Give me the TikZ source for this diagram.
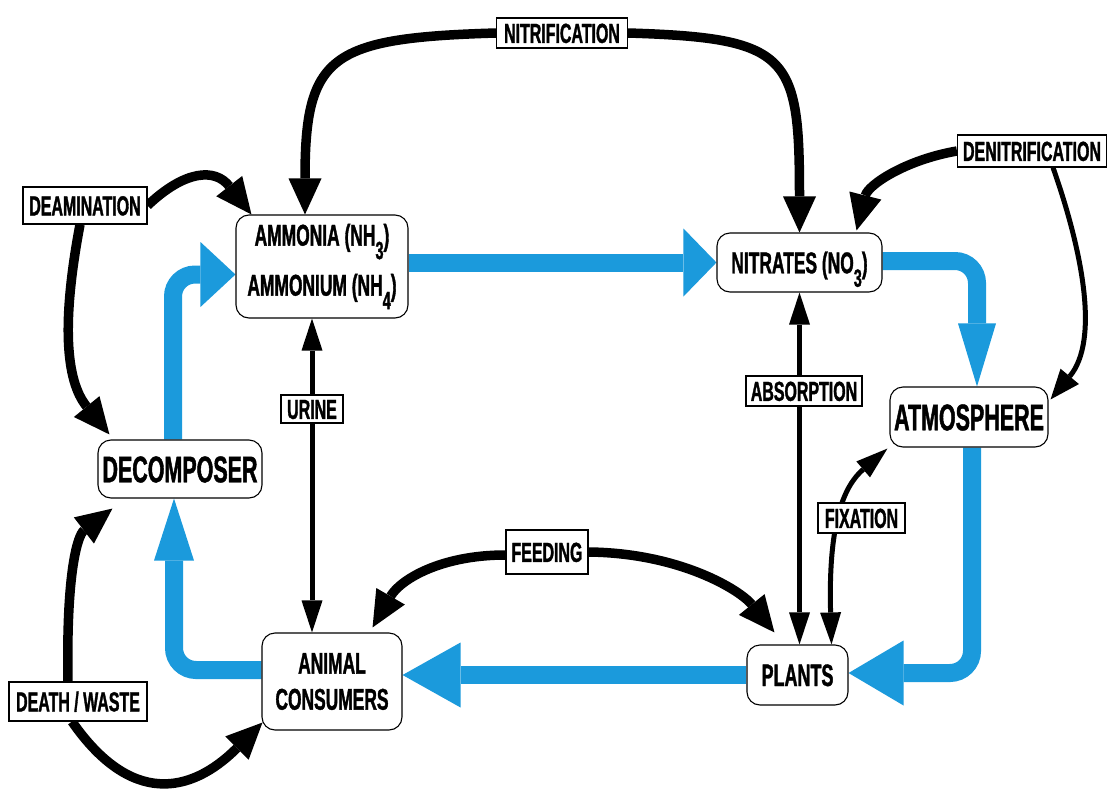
\documentclass[tikz,border=0pt]{standalone}
\usepackage{fontspec}
\setmainfont{Liberation Sans}[FakeStretch=0.58, BoldFeatures={FakeBold=1.2}]
\usetikzlibrary{arrows.meta}
\pgfdeclarelayer{bg}
\pgfsetlayers{bg,main}
\definecolor{flow}{RGB}{27,154,220}
\newcommand\sbs[1]{\raisebox{-0.45em}{\fontsize{25}{25}\selectfont #1}}
\begin{document}
\begin{tikzpicture}[x=1pt,y=-1pt,
  place/.style={draw, fill=white, rounded corners=13pt, line width=1.1pt, inner sep=0pt, align=center},
  lab/.style={draw, fill=white, line width=1.1pt, inner sep=0pt, text height=19.7pt, text depth=0pt,
    font=\bfseries\fontsize{27.5}{30}\selectfont},
  flowarrow/.style={draw=flow, line width=18pt, rounded corners=22pt},
  bigarrow/.style={line width=9.5pt, -{Triangle[length=36pt,width=33pt,line width=0pt]}},
  thinarrow/.style={line width=5pt, {Triangle[length=32pt,width=21pt,line width=0pt]}-{Triangle[length=32pt,width=21pt,line width=0pt]}},
  thinend/.style={line width=5pt, -{Triangle[length=30pt,width=24pt,line width=0pt]}},
]
\useasboundingbox (0,0) rectangle (1112,790);

% main places
\node[place, minimum width=172pt, minimum height=103pt, font=\bfseries\fontsize{30}{50}\selectfont] (amm) at (322,266.5) {AMMONIA (NH\sbs{3})\\AMMONIUM (NH\sbs{4})};
\node[place, minimum width=165pt, minimum height=59pt, text height=21.5pt, text depth=0pt, font=\bfseries\fontsize{30}{36}\selectfont] (nit) at (799.5,262.5) {NITRATES (NO\sbs{3})};
\node[place, minimum width=158pt, minimum height=60pt, text height=26.5pt, text depth=0pt, font=\bfseries\fontsize{37}{40}\selectfont] (atm) at (969,417) {ATMOSPHERE};
\node[place, minimum width=164pt, minimum height=58pt, text height=26.5pt, text depth=0pt, font=\bfseries\fontsize{37}{40}\selectfont] (dec) at (180,469) {DECOMPOSER};
\node[place, minimum width=140pt, minimum height=97pt, font=\bfseries\fontsize{30}{36}\selectfont] (con) at (332,681.5) {ANIMAL\\CONSUMERS};
\node[place, minimum width=101pt, minimum height=60pt, text height=22pt, text depth=0pt, font=\bfseries\fontsize{31}{36}\selectfont] (pla) at (797.5,675) {PLANTS};

% labels
\node[lab, minimum width=131pt, minimum height=30pt] (lnit) at (562,33) {NITRIFICATION};
\node[lab, minimum width=149pt, minimum height=32pt] (lden) at (1032,151) {DENITRIFICATION};
\node[lab, minimum width=124pt, minimum height=37pt] (ldea) at (85,205.5) {DEAMINATION};
\node[lab, minimum width=62pt, minimum height=28pt] (luri) at (312,409) {URINE};
\node[lab, minimum width=116pt, minimum height=30pt] (labs) at (804,391) {ABSORPTION};
\node[lab, minimum width=87pt, minimum height=30pt] (lfix) at (861.5,518) {FIXATION};
\node[lab, minimum width=82pt, minimum height=44pt] (lfee) at (547,552) {FEEDING};
\node[lab, minimum width=138pt, minimum height=39pt] (ldw) at (78,701.5) {DEATH / WASTE};

\begin{pgfonlayer}{bg}
\fill[white] (0,0) rectangle (1112,790);
% blue flows
\draw[flowarrow, -{Triangle[length=35pt,width=65pt,line width=0pt]}] ([xshift=-7pt]dec.north) |- ([yshift=-8pt]amm.west);
\draw[flowarrow, -{Triangle[length=33pt,width=68pt,line width=0pt]}] ([yshift=4pt]amm.east) -- (nit.west);
\draw[flowarrow, -{Triangle[length=63pt,width=38pt,line width=0pt]}] ([yshift=1.5pt]nit.east) -| ([xshift=8pt]atm.north);
\draw[flowarrow, -{Triangle[length=55pt,width=65pt,line width=0pt]}] ([xshift=3pt]atm.south) |- ([yshift=2pt]pla.east);
\draw[flowarrow, -{Triangle[length=58pt,width=65pt,line width=0pt]}] (pla.west) -- (con.east |- pla.west);
\draw[flowarrow, -{Triangle[length=62pt,width=40pt,line width=0pt]}] ([yshift=11.5pt]con.west) -| ([xshift=-6pt]dec.south);

% black arrows
\draw[bigarrow] (lnit.west) .. controls (330,38) and (305,55) .. ([xshift=-17pt]amm.north);
\draw[bigarrow] (lnit.east) .. controls (790,38) and (799.5,55) .. (nit.north);
\draw[bigarrow] (lden.west) .. controls (905,160) and (868,185) .. ([xshift=-26pt,yshift=2pt]nit.north east);
\draw[thinend] ([xshift=21pt]lden.south) .. controls (1082,250) and (1100,340) .. ([xshift=2pt,yshift=-13pt]atm.north east);
\draw[bigarrow] (ldea.east) .. controls (185,170) and (215,168) .. ([xshift=16pt]amm.north west);
\draw[bigarrow] ([xshift=-5pt]ldea.south) .. controls (62,320) and (65,380) .. ([xshift=12pt,yshift=5pt]dec.north west);
\draw[bigarrow] ([xshift=-10pt]ldw.north) .. controls (66,570) and (78,535) .. ([xshift=15pt,yshift=-10pt]dec.south west);
\draw[bigarrow] ([xshift=-6pt]ldw.south) .. controls (130,805) and (190,795) .. ([xshift=1pt,yshift=8pt]con.south west);
\draw[bigarrow] ([yshift=-3pt]lfee.west) .. controls (440,555) and (400,580) .. ([xshift=-30pt,yshift=5pt]con.north east);
\draw[bigarrow] (lfee.east) .. controls (680,553) and (740,590) .. ([xshift=28pt,yshift=12pt]pla.north west);
\draw[thinarrow] ([xshift=-10pt]amm.south) -- ([xshift=-20pt]con.north);
\draw[thinarrow] (nit.south) -- (nit.south |- pla.north);
\draw[thinarrow] ([xshift=34pt]pla.north) .. controls (828,520) and (845,485) .. ([xshift=-2pt,yshift=-1pt]atm.south west);
\end{pgfonlayer}
\end{tikzpicture}
\end{document}
